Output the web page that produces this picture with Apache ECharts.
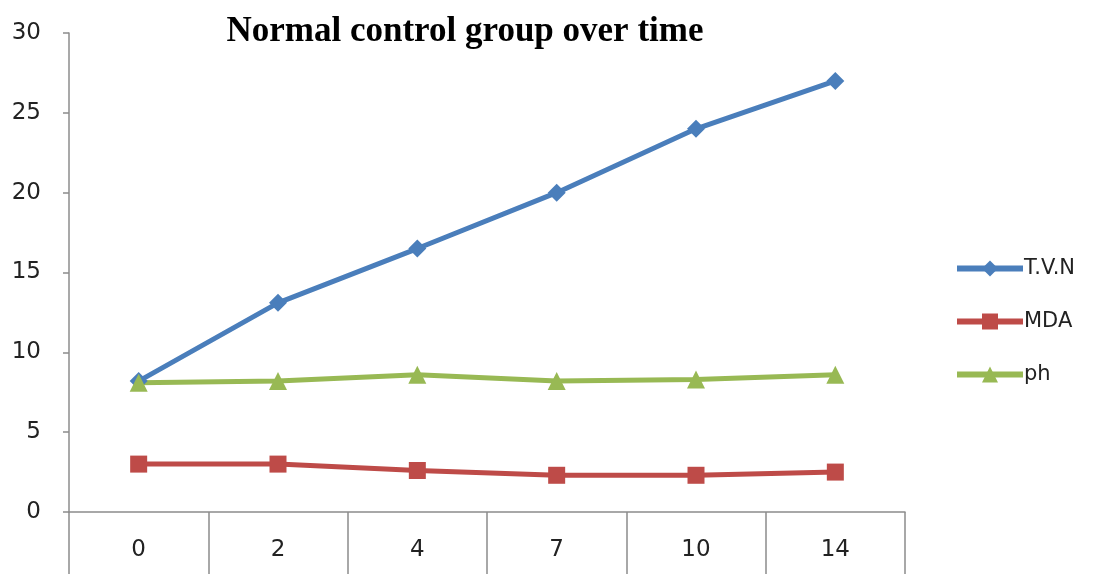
<!DOCTYPE html>
<html><head><meta charset="utf-8">
<script src="https://cdn.jsdelivr.net/npm/echarts@6/dist/echarts.min.js"></script>
<style>html,body{margin:0;padding:0;background:#fff}#c{width:1094px;height:576px}</style>
</head><body><div id="c"></div>
<script>
const categories = ['0', '2', '4', '7', '10', '14'];
const tvn = [8.2, 13.1, 16.5, 20.0, 24.0, 27.0];
const mda = [3.0, 3.0, 2.6, 2.3, 2.3, 2.5];
const ph = [8.1, 8.2, 8.6, 8.2, 8.3, 8.6];
const seriesNames = ['T.V.N', 'MDA', 'ph'];

const chart = echarts.init(document.getElementById('c'));
const font = 'DejaVu Sans';
function mk(name, data, color, symbol, size) {
  return {
    name, type: 'line', data, symbol, symbolSize: size,
    lineStyle: { color, width: 5 }, itemStyle: { color },
    animation: false
  };
}
chart.setOption({
  backgroundColor: '#fff',
  title: {
    text: 'Normal control group over time', left: 460, top: 9, textAlign: 'center',
    textStyle: { fontFamily: 'Liberation Serif', fontWeight: 'bold', fontSize: 35, color: '#000' }
  },
  legend: {
    orient: 'vertical', left: 949, top: 253, itemGap: 32, itemWidth: 66, itemHeight: 20,
    data: seriesNames,
    lineStyle: { width: 6 },
    textStyle: { fontFamily: font, fontSize: 21, color: '#222', padding: [0, 0, 0, -4] }
  },
  grid: { left: 69, right: 189, top: 33, bottom: 64 },
  xAxis: {
    type: 'category', data: categories, boundaryGap: true,
    axisLine: { lineStyle: { color: '#8c8c8c', width: 1.5 } },
    axisTick: { show: true, interval: 0, length: 62, lineStyle: { color: '#8c8c8c', width: 1.5 } },
    axisLabel: { margin: 27, fontFamily: font, fontSize: 23, color: '#222' },
    splitLine: { show: false }
  },
  yAxis: {
    type: 'value', min: 0, max: 30, interval: 5,
    axisLine: { show: true, lineStyle: { color: '#8c8c8c', width: 1.5 } },
    axisTick: { show: true, length: 6, lineStyle: { color: '#8c8c8c', width: 1.5 } },
    axisLabel: { margin: 28, fontFamily: font, fontSize: 23, color: '#222' },
    splitLine: { show: false }
  },
  series: [
    mk(seriesNames[0], tvn, '#4a7ebb', 'diamond', 18),
    mk(seriesNames[1], mda, '#be4b48', 'rect', 17),
    mk(seriesNames[2], ph, '#98b954', 'triangle', 18)
  ]
});
</script></body></html>
